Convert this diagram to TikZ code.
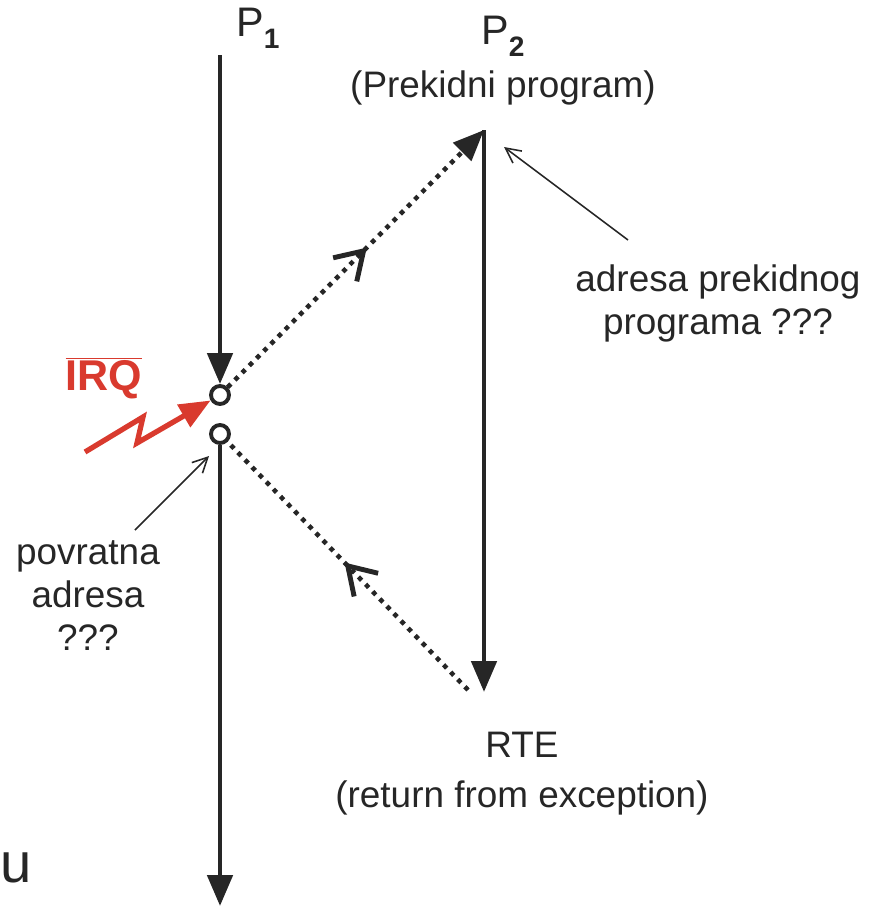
\documentclass[tikz,border=0pt]{standalone}
\usepackage{fontspec}
\setmainfont{Liberation Sans}
\usepackage{xcolor}
\usetikzlibrary{arrows.meta,positioning,decorations.markings}

\definecolor{ink}{HTML}{262626}
\definecolor{irqred}{HTML}{D93A2E}

\begin{document}
\begin{tikzpicture}[x=0.02cm, y=-0.02cm,
    txt/.style={text=ink, font=\fontsize{21pt}{24.5pt}\selectfont, align=center, inner sep=0pt},
    flow/.style={draw=ink, line width=2.8pt, -{Triangle[length=0.62cm,width=0.5cm]}},
    jump/.style={draw=ink, line width=2.6pt, dash pattern=on 2.6pt off 3.2pt},
    midtip/.style={postaction={decorate}, decoration={markings,
        mark=at position #1 with {\draw[-, draw=ink, solid, line width=2.8pt, line join=miter] (-15pt,9.5pt) -- (0pt,0pt) -- (-15pt,-9.5pt);}}},
    pointer/.style={draw=ink, line width=0.9pt, -{Straight Barb[length=0.3cm,width=0.3cm]}},
    stop/.style={circle, draw=ink, fill=white, line width=2.2pt, minimum size=0.36cm, inner sep=0pt}]
    \useasboundingbox (0,0) rectangle (880,913);

    % process labels
    \node[txt, font=\fontsize{23.5pt}{26pt}\selectfont] (p1) at (258,28) {P\raisebox{-0.55ex}{\fontsize{16pt}{18pt}\selectfont\bfseries 1}};
    \node[txt, font=\fontsize{23.5pt}{26pt}\selectfont] (p2) at (503,36) {P\raisebox{-0.55ex}{\fontsize{16pt}{18pt}\selectfont\bfseries 2}};
    \node[txt] (p2name) at (503,88) {(Prekidni program)};

    % interrupt / return points
    \coordinate (p1top) at (220,55);
    \node[stop] (irqin) at (220,395) {};
    \node[stop] (retpt) at (220,434) {};
    \coordinate (p1end) at (220,906);
    \coordinate (p2top) at (484,130);
    \coordinate (p2end) at (484,692);
    \coordinate (rtept) at (468,690);

    % main flows
    \draw[flow] (p1top) -- (irqin);
    \draw[flow] (retpt) -- (p1end);
    \draw[flow] (p2top) -- (p2end);

    % jumps
    \draw[jump, midtip=0.53, -{Triangle[length=0.62cm,width=0.5cm]}] (irqin) -- (p2top);
    \draw[jump, midtip=0.5] (rtept) -- (retpt);

    % IRQ
    \node[text=irqred, inner sep=0pt, font=\fontsize{24.5pt}{26pt}\selectfont\bfseries] (irq) at (104,378) {$\overline{\mbox{IRQ}}$};
    \coordinate (zstart) at (85,452);
    \coordinate (zA) at (143,417);
    \coordinate (zB) at (137,443);
    \draw[draw=irqred, line width=3pt, line join=miter, -{Triangle[length=0.62cm,width=0.5cm]}]
        (zstart) -- (zA) -- (zB) -- (irqin);

    % annotations
    \node[txt] (addrlbl) at (718,303) {adresa prekidnog\\programa ???};
    \coordinate (addrtail) at (628,240);
    \coordinate (addrhead) at (504,147);
    \draw[pointer] (addrtail) -- (addrhead);

    \node[txt] (retlbl) at (88,596) {povratna\\adresa\\???};
    \coordinate (rettail) at (135,530);
    \coordinate (rethead) at (209,456);
    \draw[pointer] (rettail) -- (rethead);

    \node[txt, below=0.8cm of p2end, xshift=0.76cm] (rte) {RTE\\[4pt](return from exception)};

    \node[txt, font=\fontsize{32pt}{34pt}\selectfont, anchor=west] (u) at (0,868) {u};
\end{tikzpicture}
\end{document}
